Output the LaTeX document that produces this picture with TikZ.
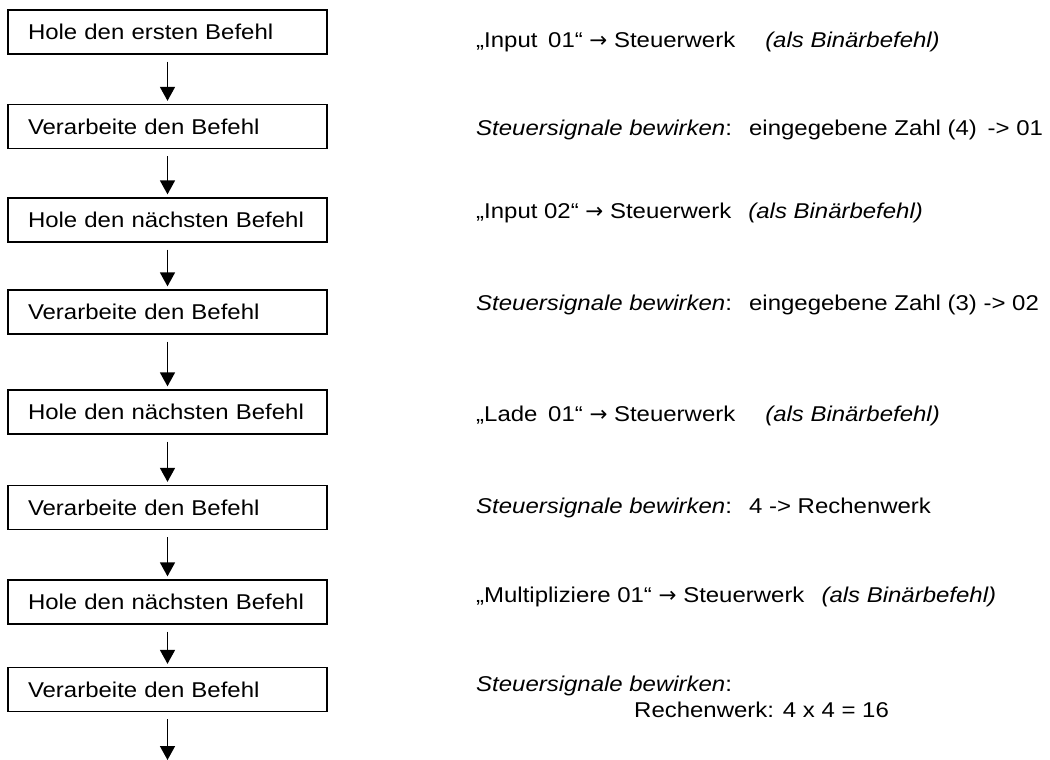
\documentclass[tikz,border=0pt]{standalone}
\usepackage{fontspec}
\setmainfont[FakeStretch=1.12]{Liberation Sans}
\newfontfamily\symfont{DejaVu Sans}
\newcommand{\pfeil}{{\symfont →}}
\usepackage{tikz}
\usetikzlibrary{arrows.meta, positioning}

\begin{document}
\begin{tikzpicture}[
            x=1pt, y=-1pt,
            txt/.style={font=\fontsize{21.4}{26}\selectfont, inner sep=0pt},
            befehlbox/.style={draw, line width=1.3pt, minimum width=319pt, minimum height=44pt, text width=279pt, inner xsep=20pt, align=left, font=\fontsize{21.4}{26}\selectfont},
            flow/.style={line width=1.6pt, -{Triangle[width=15pt, length=14pt]}, shorten <=7pt, shorten >=3pt},
            >=Stealth
        ]
          \useasboundingbox (0,0) rectangle (1050,760);
          % Ablauf links
          \node[befehlbox] (b1) at (167.5,32) {Hole den ersten Befehl};
          \node[befehlbox] (b2) at (167.5,126.5) {Verarbeite den Befehl};
          \node[befehlbox] (b3) at (167.5,220) {Hole den n\"achsten Befehl};
          \node[befehlbox] (b4) at (167.5,312) {Verarbeite den Befehl};
          \node[befehlbox] (b5) at (167.5,412) {Hole den n\"achsten Befehl};
          \node[befehlbox] (b6) at (167.5,507.5) {Verarbeite den Befehl};
          \node[befehlbox] (b7) at (167.5,602) {Hole den n\"achsten Befehl};
          \node[befehlbox] (b8) at (167.5,689.5) {Verarbeite den Befehl};
          \coordinate (ende) at (167.5,760);
          % Erklaerungen rechts
          \node[txt, anchor=west] (n1) at (476,42) {„Input\hspace{0.5em}01“ \pfeil\ Steuerwerk\hspace{1.4em}\textit{(als Binärbefehl)}};
          \node[txt, anchor=west] (n2) at (476,130) {\textit{Steuersignale bewirken}:\hspace{0.8em}eingegebene Zahl (4)\hspace{0.5em}-> 01};
          \node[txt, anchor=west] (n3) at (476,213) {„Input 02“ \pfeil\ Steuerwerk\hspace{0.8em}\textit{(als Binärbefehl)}};
          \node[txt, anchor=west] (n4) at (476,305) {\textit{Steuersignale bewirken}:\hspace{0.8em}eingegebene Zahl (3) -> 02};
          \node[txt, anchor=west] (n5) at (476,416) {„Lade\hspace{0.5em}01“ \pfeil\ Steuerwerk\hspace{1.4em}\textit{(als Binärbefehl)}};
          \node[txt, anchor=west] (n6) at (476,508) {\textit{Steuersignale bewirken}:\hspace{0.8em}4 -> Rechenwerk};
          \node[txt, anchor=west] (n7) at (476,597) {„Multipliziere 01“ \pfeil\ Steuerwerk\hspace{0.8em}\textit{(als Binärbefehl)}};
          \node[txt, anchor=north west, align=left] (n8) at (476,676) {\textit{Steuersignale bewirken}:\\\hspace*{158pt}Rechenwerk: 4 x 4 = 16};
          % Pfeile
          \foreach \a/\b in {b1/b2, b2/b3, b3/b4, b4/b5, b5/b6, b6/b7, b7/b8}
            \draw[flow] (\a) -- (\b);
          \draw[flow, shorten >=0pt] (b8) -- (ende);
        \end{tikzpicture}
\end{document}
